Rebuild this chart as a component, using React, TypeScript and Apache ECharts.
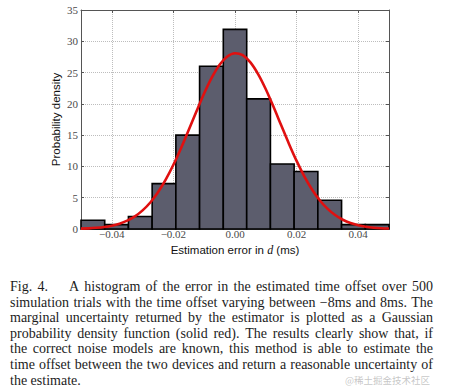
import React, { useEffect, useRef } from "react";
import * as echarts from "echarts";

// Histogram bin edges (ms) and probability densities
const binEdges = [-0.05, -0.0423, -0.0346, -0.0269, -0.0192, -0.0115, -0.0038, 0.0038, 0.0115, 0.0192, 0.0269, 0.0346, 0.0423, 0.05];
const densities = [1.4, 0.7, 2.0, 7.25, 15.0, 26.0, 31.9, 20.8, 10.4, 9.2, 4.6, 0.7, 0.7];

// Red Gaussian curve
const pdfX = [
  -0.05, -0.0475, -0.045, -0.0425, -0.04, -0.0375, -0.035, -0.0325, -0.03, -0.0275,
  -0.025, -0.0225, -0.02, -0.0175, -0.015, -0.0125, -0.01, -0.0075, -0.005, -0.0025,
  0, 0.0025, 0.005, 0.0075, 0.01, 0.0125, 0.015, 0.0175, 0.02, 0.0225,
  0.025, 0.0275, 0.03, 0.0325, 0.035, 0.0375, 0.04, 0.0425, 0.045, 0.0475, 0.05,
];
const pdfY = [
  0.06, 0.1, 0.19, 0.32, 0.53, 0.85, 1.33, 2.02, 2.98, 4.24,
  5.87, 7.89, 10.26, 12.95, 15.86, 18.82, 21.69, 24.22, 26.24, 27.57,
  28.09, 27.77, 26.62, 24.75, 22.33, 19.53, 16.57, 13.64, 10.88, 8.42,
  6.32, 4.6, 3.25, 2.23, 1.48, 0.95, 0.6, 0.36, 0.21, 0.12, 0.07,
];

const xTickValues = [-0.04, -0.02, 0, 0.02, 0.04];
const yMin = 0;
const yMax = 35;
const yStep = 5;

const yAxisTitle = "Probability density";
const xAxisTitleParts = ["Estimation error in ", "d", " (ms)"];

const captionLines = [
  "Fig. 4.\u2003\u2002A histogram of the error in the estimated time offset over 500",
  "simulation trials with the time offset varying between \u22128ms and 8ms. The",
  "marginal uncertainty returned by the estimator is plotted as a Gaussian",
  "probability density function (solid red). The results clearly show that, if",
  "the correct noise models are known, this method is able to estimate the",
  "time offset between the two devices and return a reasonable uncertainty of",
  "the estimate.",
];
const watermark = "@稀土掘金技术社区";

const fmtX = (v: number) => {
  const s = Math.abs(v).toFixed(2);
  return v < -1e-9 ? "\u2212" + s : s;
};

export default function App() {
  const ref = useRef<HTMLDivElement>(null);

  useEffect(() => {
    if (!ref.current) return;
    const chart = echarts.init(ref.current, undefined, { renderer: "svg" });

    // caption layout (justified words)
    const capFont = '14px "Liberation Serif"';
    const canvas = document.createElement("canvas");
    const ctx = canvas.getContext("2d")!;
    ctx.font = capFont;
    const capLeft = 10;
    const capWidth = 423;
    const capTop = 286.5;
    const capLead = 15.6;
    const captionEls: any[] = [];
    captionLines.forEach((line, li) => {
      const words = line.split(" ");
      const widths = words.map((w) => ctx.measureText(w).width);
      const total = widths.reduce((a, b) => a + b, 0);
      const last = li === captionLines.length - 1;
      const gap = last || words.length < 2 ? ctx.measureText(" ").width : (capWidth - total) / (words.length - 1);
      let x = capLeft;
      words.forEach((w, wi) => {
        captionEls.push({
          type: "text",
          x,
          y: capTop + li * capLead,
          silent: true,
          style: { text: w, font: capFont, fill: "#1c1c1c", align: "left", verticalAlign: "middle" },
        });
        x += widths[wi] + gap;
      });
    });

    const tickLabelStyle = {
      fontFamily: '"Liberation Serif", serif',
      fontSize: 11,
      color: "#4a4a4a",
    };
    const axisLineStyle = { color: "#555", width: 1 };

    const option: any = {
      animation: false,
      backgroundColor: "#ffffff",
      grid: { left: 81, top: 10, width: 308, height: 219, containLabel: false },
      xAxis: [
        {
          type: "value",
          min: -0.05,
          max: 0.05,
          position: "bottom",
          axisLine: { show: true, onZero: false, lineStyle: axisLineStyle },
          axisTick: { show: true, inside: true, length: 3, customValues: xTickValues, lineStyle: axisLineStyle },
          axisLabel: { customValues: xTickValues, formatter: fmtX, margin: -1, ...tickLabelStyle },
          splitLine: { show: true, lineStyle: { type: "dotted", color: "#bdbdbd", width: 1 } },
          name: xAxisTitleParts[0] + "{i|" + xAxisTitleParts[1] + "}" + xAxisTitleParts[2],
          nameLocation: "middle",
          nameGap: 15,
          nameMoveOverlap: false,
          nameTextStyle: {
            fontFamily: '"Liberation Sans", Arial, sans-serif',
            fontSize: 11.5,
            color: "#111",
            rich: {
              i: { fontFamily: '"Liberation Serif", serif', fontStyle: "italic", fontSize: 12, color: "#111" },
            },
          },
        },
        {
          type: "value",
          min: -0.05,
          max: 0.05,
          position: "top",
          axisLine: { show: true, onZero: false, lineStyle: axisLineStyle },
          axisTick: { show: true, inside: true, length: 3, customValues: xTickValues, lineStyle: axisLineStyle },
          axisLabel: { show: false },
          splitLine: { show: false },
        },
      ],
      yAxis: [
        {
          type: "value",
          min: yMin,
          max: yMax,
          interval: yStep,
          position: "left",
          axisLine: { show: true, onZero: false, lineStyle: axisLineStyle },
          axisTick: { show: true, inside: true, length: 3, lineStyle: axisLineStyle },
          axisLabel: { margin: 3, ...tickLabelStyle },
          splitLine: { show: true, lineStyle: { type: "dotted", color: "#bdbdbd", width: 1 } },
          name: yAxisTitle,
          nameLocation: "middle",
          nameGap: 19,
          nameMoveOverlap: false,
          nameTextStyle: {
            fontFamily: '"Liberation Sans", Arial, sans-serif',
            fontSize: 11.5,
            color: "#111",
          },
        },
        {
          type: "value",
          min: yMin,
          max: yMax,
          interval: yStep,
          position: "right",
          axisLine: { show: true, onZero: false, lineStyle: axisLineStyle },
          axisTick: { show: true, inside: true, length: 3, lineStyle: axisLineStyle },
          axisLabel: { show: false },
          splitLine: { show: false },
        },
      ],
      series: [
        {
          type: "custom",
          xAxisIndex: 0,
          yAxisIndex: 0,
          z: 2,
          data: densities.map((d, i) => [binEdges[i], binEdges[i + 1], d]),
          encode: { x: [0, 1], y: 2 },
          renderItem: (params: any, api: any) => {
            const p0 = api.coord([api.value(0), api.value(2)]);
            const p1 = api.coord([api.value(1), 0]);
            return {
              type: "rect",
              shape: { x: p0[0], y: p0[1], width: p1[0] - p0[0], height: p1[1] - p0[1] },
              style: { fill: "#5c5d6d", stroke: "#000", lineWidth: 1.6 },
            };
          },
        },
        {
          type: "line",
          xAxisIndex: 0,
          yAxisIndex: 0,
          z: 3,
          data: pdfX.map((x, i) => [x, pdfY[i]]),
          smooth: 0.3,
          symbol: "none",
          lineStyle: { color: "#e01010", width: 2.6 },
        },
      ],
      graphic: [
        ...captionEls,
        {
          type: "text",
          x: 345,
          y: 380,
          silent: true,
          style: {
            text: watermark,
            font: '9.5px "Noto Sans CJK SC"',
            fill: "rgba(150,150,150,0.55)",
            align: "left",
            verticalAlign: "middle",
          },
        },
      ],
    };

    chart.setOption(option);
    return () => chart.dispose();
  }, []);

  return (
    <div
      ref={ref}
      style={{ position: "absolute", left: 0, top: 0, width: 449, height: 389, background: "#fff" }}
    />
  );
}
